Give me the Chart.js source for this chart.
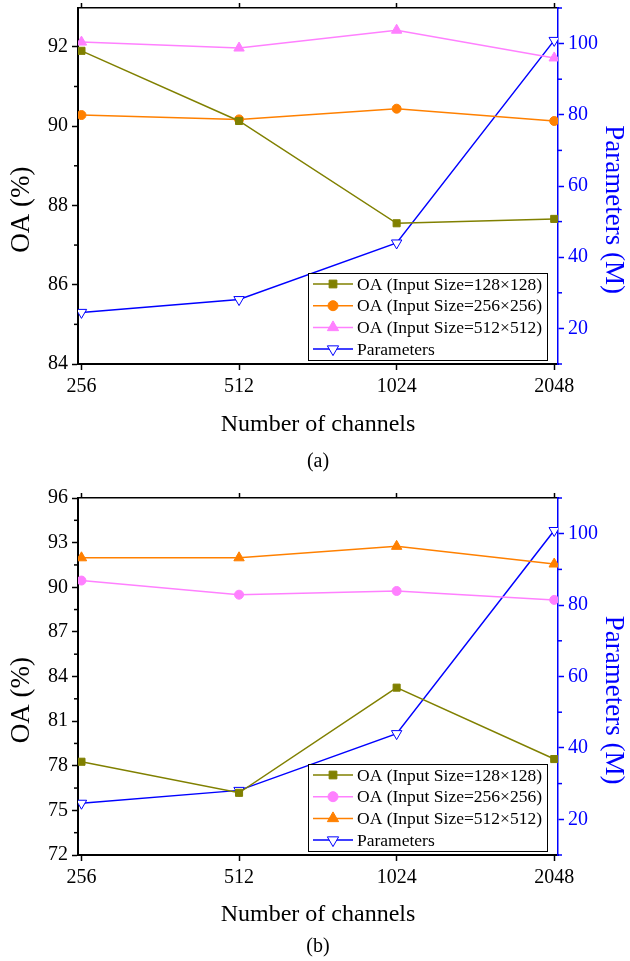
<!DOCTYPE html>
<html lang="en">
<head>
<meta charset="UTF-8">
<script src="https://cdn.jsdelivr.net/npm/chart.js@4"></script>
<title>OA vs channels</title>
<style>
    body { margin: 0; background: #fff; width: 630px; height: 961px; position: relative; overflow: hidden; font-family: "Liberation Serif", serif; }
    .panel { position: absolute; left: 0; width: 630px; }
    .cap { position: absolute; left: 78px; width: 480px; text-align: center; font-size: 20px; line-height: 24px; color: #000; }
</style>
</head>
<body>
<div class="panel" style="top:0;height:480px"><canvas id="chartA"></canvas></div>
<div class="cap" style="top:448px">(a)</div>
<div class="panel" style="top:489px;height:472px"><canvas id="chartB"></canvas></div>
<div class="cap" style="top:933px">(b)</div>

<script>
const channels = ['256', '512', '1024', '2048'];
const paramsM = [24.5, 28.1, 44.0, 100.9];

// (a)
const oaA_128 = [91.9, 90.13, 87.55, 87.66];
const oaA_256 = [90.28, 90.17, 90.44, 90.13];
const oaA_512 = [92.12, 91.97, 92.42, 91.72];

// (b)
const oaB_128 = [78.27, 76.18, 83.25, 78.45];
const oaB_256 = [90.45, 89.5, 89.75, 89.15];
const oaB_512 = [91.98, 91.98, 92.75, 91.56];

const oaTicksA = [84, 86, 88, 90, 92];
const oaMinorA = [85, 87, 89, 91];
const oaTicksB = [72, 75, 78, 81, 84, 87, 90, 93, 96];
const oaMinorB = [73.5, 76.5, 79.5, 82.5, 85.5, 88.5, 91.5, 94.5];
const paramTicks = [20, 40, 60, 80, 100];
const paramMinor = [10, 30, 50, 70, 90, 110];

const FONT = '"Liberation Serif", "Times New Roman", serif';
const OLIVE = '#808000', ORANGE = '#FF8000', PINK = '#FF80FF', BLUE = '#0000FF';
// the y titles sit a bit below the middle of the axis in the original,
// the blank space pushes the visible text down
const SHIFT = '\u2002\u2002\u2002 ';

function pts(vals) {
    return vals.map((v, i) => ({ x: i, y: v }));
}

function serie(label, vals, color, style, radius, extra) {
    return Object.assign({
        label: label,
        data: pts(vals),
        borderColor: color,
        backgroundColor: color,
        pointBackgroundColor: color,
        pointBorderColor: color,
        borderWidth: 1.5,
        pointStyle: style,
        pointRadius: radius,
        pointBorderWidth: 1,
        pointRotation: 0,
        yAxisID: 'y'
    }, extra || {});
}

function paramSerie() {
    return serie('Parameters', paramsM, BLUE, 'triangle', 6,
        { pointBackgroundColor: '#fff', pointRotation: 180, yAxisID: 'y1' });
}

// fix the size of every axis so the plot area lands where it should
function fix(size) {
    return function (s) {
        if (s.isHorizontal()) s.height = size; else s.width = size;
        s.paddingTop = s.paddingBottom = s.paddingLeft = s.paddingRight = 0;
    };
}

const minorTicks = {
    id: 'minorTicks',
    afterDraw(chart, args, opts) {
        const ctx = chart.ctx;
        ['y', 'y1'].forEach(id => {
            const s = chart.scales[id];
            const vals = opts[id] || [];
            const left = id === 'y';
            const x0 = left ? s.right : s.left;
            ctx.save();
            ctx.strokeStyle = left ? '#000' : BLUE;
            ctx.lineWidth = 1.5;
            vals.forEach(v => {
                const py = s.getPixelForValue(v);
                ctx.beginPath();
                ctx.moveTo(x0, py);
                ctx.lineTo(x0 + (left ? -4 : 4), py);
                ctx.stroke();
            });
            ctx.restore();
        });
    }
};

const boxLegend = {
    id: 'boxLegend',
    afterDatasetsDraw(chart) {
        const ctx = chart.ctx;
        const a = chart.chartArea;
        const w = 239, h = 87;
        const x = a.right - 11 - w, y = a.bottom - 4 - h;
        ctx.save();
        ctx.fillStyle = '#fff';
        ctx.fillRect(x, y, w, h);
        ctx.strokeStyle = '#000';
        ctx.lineWidth = 1;
        ctx.strokeRect(x + 0.5, y + 0.5, w, h);
        ctx.font = '17.5px ' + FONT;
        ctx.textBaseline = 'middle';
        chart.data.datasets.forEach((ds, i) => {
            const cy = y + 11 + i * 21.7;
            ctx.strokeStyle = ds.borderColor;
            ctx.lineWidth = ds.borderWidth;
            ctx.beginPath();
            ctx.moveTo(x + 5, cy);
            ctx.lineTo(x + 45, cy);
            ctx.stroke();
            ctx.fillStyle = ds.pointBackgroundColor;
            ctx.strokeStyle = ds.pointBorderColor;
            ctx.lineWidth = ds.pointBorderWidth;
            if (Chart.helpers && Chart.helpers.drawPoint) {
                Chart.helpers.drawPoint(ctx, {
                    pointStyle: ds.pointStyle, rotation: ds.pointRotation, radius: ds.pointRadius + 0.5,
                    borderWidth: ds.pointBorderWidth
                }, x + 25, cy);
            }
            ctx.fillStyle = '#000';
            ctx.fillText(ds.label, x + 49, cy + 1);
        });
        ctx.restore();
    }
};

function build(id, datasets, yMin, yMax, yTicks, yMinor, g) {
    const catTicks = s => { s.ticks = channels.map((c, i) => ({ value: i })); };
    new Chart(document.getElementById(id), {
        type: 'line',
        data: { datasets: datasets },
        options: {
            responsive: true,
            maintainAspectRatio: false,
            animation: false,
            events: [],
            layout: { padding: { top: g.top, left: 0, right: 0, bottom: 0 } },
            plugins: {
                legend: { display: false },
                tooltip: { enabled: false },
                minorTicks: { y: yMinor, y1: paramMinor }
            },
            scales: {
                x: {
                    type: 'linear', position: 'bottom', min: -0.022, max: 3.024,
                    afterBuildTicks: catTicks,
                    afterFit: fix(g.xh),
                    ticks: { callback: v => channels[v], color: '#000', font: { family: FONT, size: 20 }, padding: 5, maxRotation: 0, autoSkip: false },
                    grid: { drawOnChartArea: false, tickLength: 6, tickColor: '#000', tickWidth: 1.5 },
                    border: { color: '#000', width: 2 },
                    title: { display: true, text: 'Number of channels', color: '#000', font: { family: FONT, size: 24 }, padding: { top: 0, bottom: g.tpad } }
                },
                x2: {
                    type: 'linear', position: 'top', min: -0.022, max: 3.024,
                    afterBuildTicks: catTicks,
                    afterFit: fix(0),
                    ticks: { display: false },
                    grid: { drawOnChartArea: false, tickLength: 5, tickColor: '#000', tickWidth: 1.5 },
                    border: { color: '#000', width: 1.5 }
                },
                y: {
                    type: 'linear', position: 'left', min: yMin, max: yMax,
                    afterBuildTicks: s => { s.ticks = yTicks.map(v => ({ value: v })); },
                    afterFit: fix(78),
                    ticks: { color: '#000', font: { family: FONT, size: 20 }, padding: 4, callback: v => String(v) },
                    grid: { drawOnChartArea: false, tickLength: 6, tickColor: '#000', tickWidth: 1.5 },
                    border: { color: '#000', width: 2 },
                    title: { display: true, text: 'OA (%)' + SHIFT, color: '#000', font: { family: FONT, size: 27 }, padding: { top: 6, bottom: 0 } }
                },
                y1: {
                    type: 'linear', position: 'right', min: 10, max: 110,
                    afterBuildTicks: s => { s.ticks = paramTicks.map(v => ({ value: v })); },
                    afterFit: fix(72),
                    ticks: { color: BLUE, font: { family: FONT, size: 20 }, padding: 4, callback: v => String(v) },
                    grid: { drawOnChartArea: false, tickLength: 6, tickColor: BLUE, tickWidth: 1.5 },
                    border: { color: BLUE, width: 1.5 },
                    title: { display: true, text: SHIFT + 'Parameters (M)', color: BLUE, font: { family: FONT, size: 27 }, padding: { top: 1, bottom: 0 } }
                }
            }
        },
        plugins: [boxLegend, minorTicks]
    });
}

build('chartA', [
    serie('OA (Input Size=128×128)', oaA_128, OLIVE, 'rect', 5),
    serie('OA (Input Size=256×256)', oaA_256, ORANGE, 'circle', 4.5),
    serie('OA (Input Size=512×512)', oaA_512, PINK, 'triangle', 6),
    paramSerie()
], 84, 92.98, oaTicksA, oaMinorA, { top: 8, xh: 116, tpad: 40.6 });

build('chartB', [
    serie('OA (Input Size=128×128)', oaB_128, OLIVE, 'rect', 5),
    serie('OA (Input Size=256×256)', oaB_256, PINK, 'circle', 4.5),
    serie('OA (Input Size=512×512)', oaB_512, ORANGE, 'triangle', 6),
    paramSerie()
], 72, 96, oaTicksB, oaMinorB, { top: 9, xh: 106, tpad: 31.6 });
</script>
</body>
</html>
